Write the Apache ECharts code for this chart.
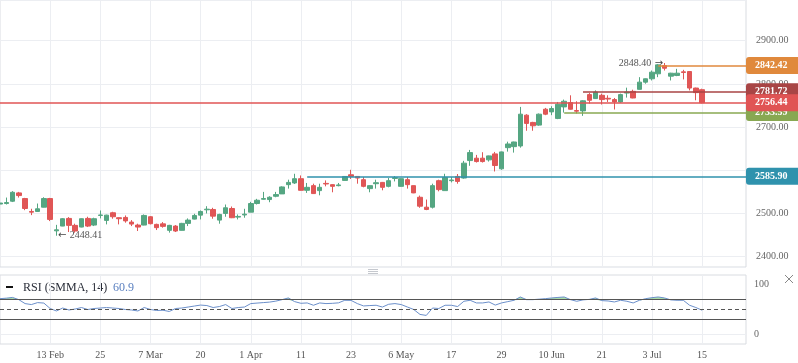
<!DOCTYPE html>
<html><head><meta charset="utf-8">
<script src="https://cdn.jsdelivr.net/npm/echarts@6/dist/echarts.min.js"></script>
<style>html,body{margin:0;padding:0;background:#fff}#c{width:798px;height:363px}</style>
</head><body><div id="c"></div>
<script>
// ---- data ----
const dates = ['1 Feb','4 Feb','5 Feb','6 Feb','7 Feb','8 Feb','11 Feb','12 Feb','13 Feb','14 Feb',
 '15 Feb','18 Feb','19 Feb','20 Feb','21 Feb','22 Feb','25 Feb','26 Feb','27 Feb','28 Feb',
 '1 Mar','4 Mar','5 Mar','6 Mar','7 Mar','11 Mar','12 Mar','13 Mar','14 Mar','15 Mar',
 '18 Mar','19 Mar','20 Mar','21 Mar','22 Mar','25 Mar','26 Mar','27 Mar','28 Mar','29 Mar',
 '1 Apr','2 Apr','3 Apr','4 Apr','5 Apr','8 Apr','9 Apr','10 Apr','11 Apr','12 Apr',
 '15 Apr','16 Apr','17 Apr','18 Apr','19 Apr','22 Apr','23 Apr','24 Apr','25 Apr','26 Apr',
 '29 Apr','30 Apr','2 May','3 May','6 May','7 May','8 May','10 May','13 May','14 May',
 '15 May','16 May','17 May','20 May','21 May','22 May','23 May','24 May','27 May','28 May',
 '29 May','30 May','31 May','3 Jun','4 Jun','5 Jun','6 Jun','7 Jun','10 Jun','11 Jun',
 '13 Jun','14 Jun','17 Jun','18 Jun','19 Jun','20 Jun','21 Jun','24 Jun','25 Jun','26 Jun',
 '27 Jun','28 Jun','1 Jul','2 Jul','3 Jul','4 Jul','5 Jul','8 Jul','9 Jul','10 Jul',
 '11 Jul','12 Jul','15 Jul'];
const futureDates = ['16 Jul','17 Jul','18 Jul','19 Jul','22 Jul','23 Jul','24 Jul'];
// [open, close, low, high]
const ohlc = [
 [2521.8,2524.1,2520.7,2525.3],[2523.0,2525.3,2520.7,2536.8],[2528.3,2549.0,2526.4,2551.7],[2547.6,2541.4,2536.8,2549.9],
 [2534.5,2511.5,2507.6,2536.1],[2504.6,2503.0,2496.1,2510.8],[2504.6,2510.8,2503.9,2523.0],[2514.5,2534.5,2514.0,2537.5],
 [2534.5,2486.2,2482.3,2536.1],[2459.8,2462.1,2448.41,2473.6],[2470.8,2487.8,2470.5,2489.2],[2488.5,2472.4,2457.0,2491.5],
 [2472.4,2459.3,2455.6,2476.3],[2468.5,2487.8,2467.8,2488.5],[2488.5,2470.8,2468.5,2492.4],[2473.1,2487.8,2470.8,2490.1],
 [2495.4,2496.5,2488.5,2506.9],[2483.9,2496.1,2474.7,2497.0],[2501.6,2492.4,2487.8,2503.9],[2490.1,2487.8,2474.7,2490.8],
 [2490.8,2482.8,2478.6,2495.4],[2480.0,2475.4,2470.8,2484.6],[2473.1,2468.5,2459.3,2476.3],[2473.1,2495.4,2472.5,2497.7],
 [2492.4,2476.3,2474.7,2493.8],[2474.7,2467.1,2461.6,2476.3],[2475.9,2470.1,2467.1,2480.0],[2460.9,2472.4,2455.6,2473.6],
 [2470.8,2459.3,2457.0,2473.1],[2460.9,2477.0,2460.5,2478.2],[2477.0,2484.6,2470.8,2488.5],[2486.9,2495.4,2486.2,2499.3],
 [2496.1,2504.6,2486.2,2506.9],[2508.5,2509.9,2500.0,2516.8],[2509.2,2493.8,2487.8,2513.1],[2484.6,2497.7,2476.3,2499.3],
 [2500.0,2513.1,2492.4,2520.7],[2511.5,2490.1,2489.2,2516.1],[2491.5,2493.1,2486.2,2497.7],[2496.5,2498.4,2490.1,2510.8],
 [2503.0,2523.0,2503.0,2526.9],[2523.0,2530.6,2520.7,2533.8],[2532.9,2534.5,2532.2,2549.9],[2532.2,2537.5,2526.0,2539.8],
 [2539.8,2543.7,2537.5,2549.9],[2545.3,2561.4,2545.0,2562.8],[2566.7,2571.9,2557.5,2578.2],[2570.6,2580.5,2568.3,2591.9],
 [2580.5,2553.6,2553.0,2588.0],[2553.6,2560.5,2547.6,2570.6],[2564.4,2546.0,2545.3,2568.9],[2552.9,2560.5,2542.0,2568.9],
 [2569.6,2568.3,2562.8,2576.5],[2566.7,2562.8,2549.0,2567.4],[2564.4,2566.0,2562.8,2570.6],[2576.5,2585.7,2576.0,2586.6],
 [2589.6,2585.7,2579.8,2601.1],[2585.7,2582.0,2568.9,2586.6],[2578.2,2562.8,2560.5,2584.4],[2557.5,2564.4,2549.0,2565.1],
 [2568.9,2571.2,2557.5,2578.2],[2571.9,2560.5,2553.6,2572.9],[2562.8,2575.9,2560.5,2582.0],[2581.1,2582.8,2574.2,2586.6],
 [2562.8,2580.5,2562.1,2581.1],[2578.2,2566.7,2557.5,2584.4],[2564.4,2547.6,2547.0,2564.6],[2537.5,2516.8,2513.1,2541.4],
 [2514.5,2509.2,2507.6,2532.2],[2514.5,2564.4,2511.5,2568.9],[2575.9,2555.2,2551.2,2578.2],[2552.9,2583.5,2552.5,2591.9],
 [2575.9,2577.5,2571.9,2584.4],[2585.7,2574.2,2568.9,2591.3],[2582.0,2616.5,2580.5,2621.8],[2622.5,2640.9,2610.3,2647.1],
 [2628.0,2620.2,2617.9,2635.6],[2628.0,2620.2,2617.9,2641.8],[2624.1,2633.3,2620.2,2634.0],[2637.9,2611.0,2597.2,2642.5],
 [2603.4,2642.5,2601.1,2643.2],[2652.4,2660.9,2643.2,2666.2],[2654.7,2665.5,2640.9,2666.2],[2656.3,2729.9,2652.4,2746.7],
 [2727.6,2708.5,2691.5,2729.9],[2710.8,2703.0,2691.5,2712.2],[2704.6,2729.9,2703.0,2731.5],[2741.4,2729.9,2727.6,2744.4],
 [2735.2,2743.0,2727.6,2748.3],[2720.0,2752.9,2718.4,2758.2],[2746.7,2759.8,2733.59,2763.7],[2756.8,2741.4,2740.5,2773.6],
 [2738.4,2736.8,2731.5,2759.8],[2737.5,2760.9,2726.0,2762.1],[2775.2,2762.1,2754.5,2778.8],[2766.0,2781.1,2765.0,2785.0],
 [2773.6,2763.7,2752.2,2777.5],[2766.7,2765.0,2758.2,2773.6],[2763.7,2758.2,2740.7,2767.4],[2758.2,2775.2,2755.9,2777.5],
 [2778.8,2781.1,2768.3,2791.3],[2782.8,2767.4,2766.7,2786.6],[2787.4,2804.1,2787.0,2815.6],[2804.1,2811.9,2800.5,2812.6],
 [2811.9,2827.1,2808.0,2831.0],[2823.4,2844.1,2815.6,2846.0],[2842.42,2836.3,2831.0,2848.40],[2817.9,2824.8,2808.0,2825.7],
 [2819.5,2824.8,2817.9,2834.9],[2828.0,2826.4,2810.4,2832.6],[2828.7,2790.4,2785.0,2829.4],[2790.4,2779.8,2762.1,2791.3],
 [2786.6,2756.44,2755.0,2788.9]
];
const rsi = [72,73,74.5,70,62,60,64,63,52,47,
 53,49,51,54,50,52,53,54,53,52,
 50,49,47,54,50,48,48.5,46,52,53,
 55,57,59,58,54,56,60,52,54,55,
 62,63,64,65,67,70,73.5,66,62.6,63.3,
 58.6,63.3,62,62.5,63.5,68.7,68.5,62,57.2,58,
 58.6,55,60.6,62,60,55,50,40,38,53,
 52,58.6,58.6,56,66.7,68.7,63.3,63.3,65.3,59,
 63.3,66,68.7,75.4,70,70,71,72,73.4,74.5,
 75.4,70,66.7,69.5,70.5,73.4,68,67.3,65.3,68.7,
 66.7,63.3,68.7,72,74,75.4,73.4,69.5,68.7,68.7,
 58.6,54,48.5];
const rsiLastText = '60.9';
const rsiTitle = 'RSI (SMMA, 14)';
const rsiBands = [70, 50, 30];
const levelValues = [2585.90, 2842.42, 2733.59, 2781.72, 2756.44];
const levelStartBar = [49, 105, 90, 93, 0];
const hiddenPriceTicks = [2600];
const highBar = 106, highValue = 2848.40;
const lowBar = 9, lowValue = 2448.41;
const firstTickBar = 8, tickStep = 8;

// ---- styles ----
const UP = '#55a682', DOWN = '#e05656';
const levelColors = ['#2f92ad', '#e0893c', '#88a852', '#a84545', '#e05454'];
const FONT = 'Liberation Serif';
const GRIDC = '#eceef2';

const cats = dates.concat(futureDates);
const lastIdx = cats.length - 1;
const lastBar = dates.length - 1;
const showTick = (i) => i >= firstTickBar && i <= lastBar && (i - firstTickBar) % tickStep === 0;
const fmtDate = (value, index) => {
  const prev = cats[index - tickStep];
  const parts = value.split(' ');
  if (index === firstTickBar || !prev || prev.split(' ')[1] !== parts[1]) return value;
  return parts[0];
};
const rsiBase = rsi.map(v => Math.min(v, 70));
const rsiOver = rsi.map(v => Math.max(v - 70, 0));

const levelLines = levelValues.map((v, k) => [
  { coord: [levelStartBar[k], v],
    lineStyle: { color: levelColors[k], width: 1.5, type: 'solid' },
    label: { show: true, position: 'end', distance: 0, formatter: v.toFixed(2),
      color: '#fff', fontWeight: 'bold', fontSize: 10, fontFamily: FONT,
      backgroundColor: levelColors[k], padding: [2, 0, 2, 9], width: 43, lineHeight: 13,
      borderRadius: [3, 0, 0, 3] } },
  { coord: [lastIdx, v] }
]);

const richArrow = {
  t: { color: '#555', fontSize: 10, fontFamily: FONT },
  a: { color: '#444', fontSize: 10, fontFamily: 'DejaVu Sans' }
};

const chart = echarts.init(document.getElementById('c'), null, { renderer: 'canvas' });
chart.setOption({
  animation: false,
  backgroundColor: '#fff',
  grid: [
    { left: -1, right: 52, top: -1, height: 268, show: true, borderColor: '#d9dce1', borderWidth: 1, backgroundColor: 'transparent' },
    { left: -1, right: 52, top: 275, height: 69, show: true, borderColor: '#d9dce1', borderWidth: 1, backgroundColor: 'transparent' }
  ],
  xAxis: [
    { type: 'category', gridIndex: 0, data: cats, boundaryGap: false,
      axisLine: { show: false }, axisTick: { show: false }, axisLabel: { show: false },
      splitLine: { show: true, interval: (i) => showTick(i), lineStyle: { color: GRIDC } } },
    { type: 'category', gridIndex: 1, data: cats, boundaryGap: false,
      axisLine: { show: false }, axisTick: { show: false },
      axisLabel: { show: true, interval: (i) => showTick(i), formatter: fmtDate, margin: 6,
        color: '#555', fontSize: 10, fontFamily: FONT },
      splitLine: { show: true, interval: (i) => showTick(i), lineStyle: { color: GRIDC } } }
  ],
  yAxis: [
    { type: 'value', gridIndex: 0, position: 'right', min: 2376, max: 2994.3, splitNumber: 5,
      axisLine: { show: false }, axisTick: { show: false },
      axisLabel: { formatter: (v) => hiddenPriceTicks.indexOf(Math.round(v)) >= 0 ? '' : v.toFixed(2),
        showMinLabel: false, showMaxLabel: false,
        margin: 10, color: '#666', fontSize: 10, fontFamily: FONT },
      splitLine: { show: true, lineStyle: { color: GRIDC } } },
    { type: 'value', gridIndex: 1, position: 'right', min: -20, max: 120, splitNumber: 1,
      axisLine: { show: false }, axisTick: { show: false },
      axisLabel: { showMinLabel: false, showMaxLabel: false, margin: 8, color: '#666', fontSize: 10, fontFamily: FONT },
      splitLine: { show: false } }
  ],
  series: [
    { type: 'candlestick', xAxisIndex: 0, yAxisIndex: 0, data: ohlc, barWidth: 5,
      itemStyle: { color: UP, color0: DOWN, borderColor: UP, borderColor0: DOWN, borderWidth: 1 },
      markLine: { silent: true, symbol: ['none', 'none'], animation: false, data: levelLines },
      markPoint: { silent: true, animation: false, symbol: 'circle', symbolSize: 1,
        itemStyle: { color: 'rgba(0,0,0,0)' },
        data: [
          { coord: [highBar, highValue], label: { show: true, position: 'left', distance: 1,
              formatter: '{t|' + highValue.toFixed(2) + '} {a|→}', rich: richArrow } },
          { coord: [lowBar, lowValue], label: { show: true, position: 'right', distance: 1,
              formatter: '{a|←} {t|' + lowValue.toFixed(2) + '}', rich: richArrow } }
        ] } },
    { type: 'line', name: 'base', xAxisIndex: 1, yAxisIndex: 1, data: rsiBase, stack: 'ob',
      symbol: 'none', silent: true, lineStyle: { width: 0, opacity: 0 } },
    { type: 'line', name: 'over', xAxisIndex: 1, yAxisIndex: 1, data: rsiOver, stack: 'ob',
      symbol: 'none', silent: true, lineStyle: { width: 0, opacity: 0 },
      areaStyle: { color: 'rgba(92,190,92,0.75)' } },
    { type: 'line', name: 'RSI', xAxisIndex: 1, yAxisIndex: 1, data: rsi, symbol: 'none', silent: true,
      lineStyle: { color: '#6b8fca', width: 1 },
      markLine: { silent: true, symbol: ['none', 'none'], animation: false, label: { show: false },
        data: [
          { yAxis: 0, lineStyle: { color: GRIDC, width: 1, type: 'solid' } },
          { yAxis: rsiBands[0], lineStyle: { color: '#555', width: 1, type: 'solid' } },
          { yAxis: rsiBands[1], lineStyle: { color: '#555', width: 1, type: [4, 3] } },
          { yAxis: rsiBands[2], lineStyle: { color: '#555', width: 1, type: 'solid' } }
        ] } }
  ],
  graphic: [
    { type: 'rect', shape: { x: 6, y: 286, width: 7, height: 2 }, style: { fill: '#111' } },
    { type: 'text', x: 23, y: 287.5, style: { text: rsiTitle, fill: '#2a2e39', font: '12px "Liberation Serif"', verticalAlign: 'middle' } },
    { type: 'text', x: 113, y: 287.5, style: { text: rsiLastText, fill: '#5b80c0', font: '12px "Liberation Serif"', verticalAlign: 'middle' } },
    { type: 'line', shape: { x1: 368, y1: 269.5, x2: 378, y2: 269.5 }, style: { stroke: '#c5c8ce', lineWidth: 1 } },
    { type: 'line', shape: { x1: 368, y1: 271.5, x2: 378, y2: 271.5 }, style: { stroke: '#c5c8ce', lineWidth: 1 } },
    { type: 'line', shape: { x1: 368, y1: 273.5, x2: 378, y2: 273.5 }, style: { stroke: '#c5c8ce', lineWidth: 1 } },
    { type: 'line', shape: { x1: 785, y1: 275, x2: 793, y2: 283 }, style: { stroke: '#888', lineWidth: 1 } },
    { type: 'line', shape: { x1: 793, y1: 275, x2: 785, y2: 283 }, style: { stroke: '#888', lineWidth: 1 } }
  ]
});
</script></body></html>
